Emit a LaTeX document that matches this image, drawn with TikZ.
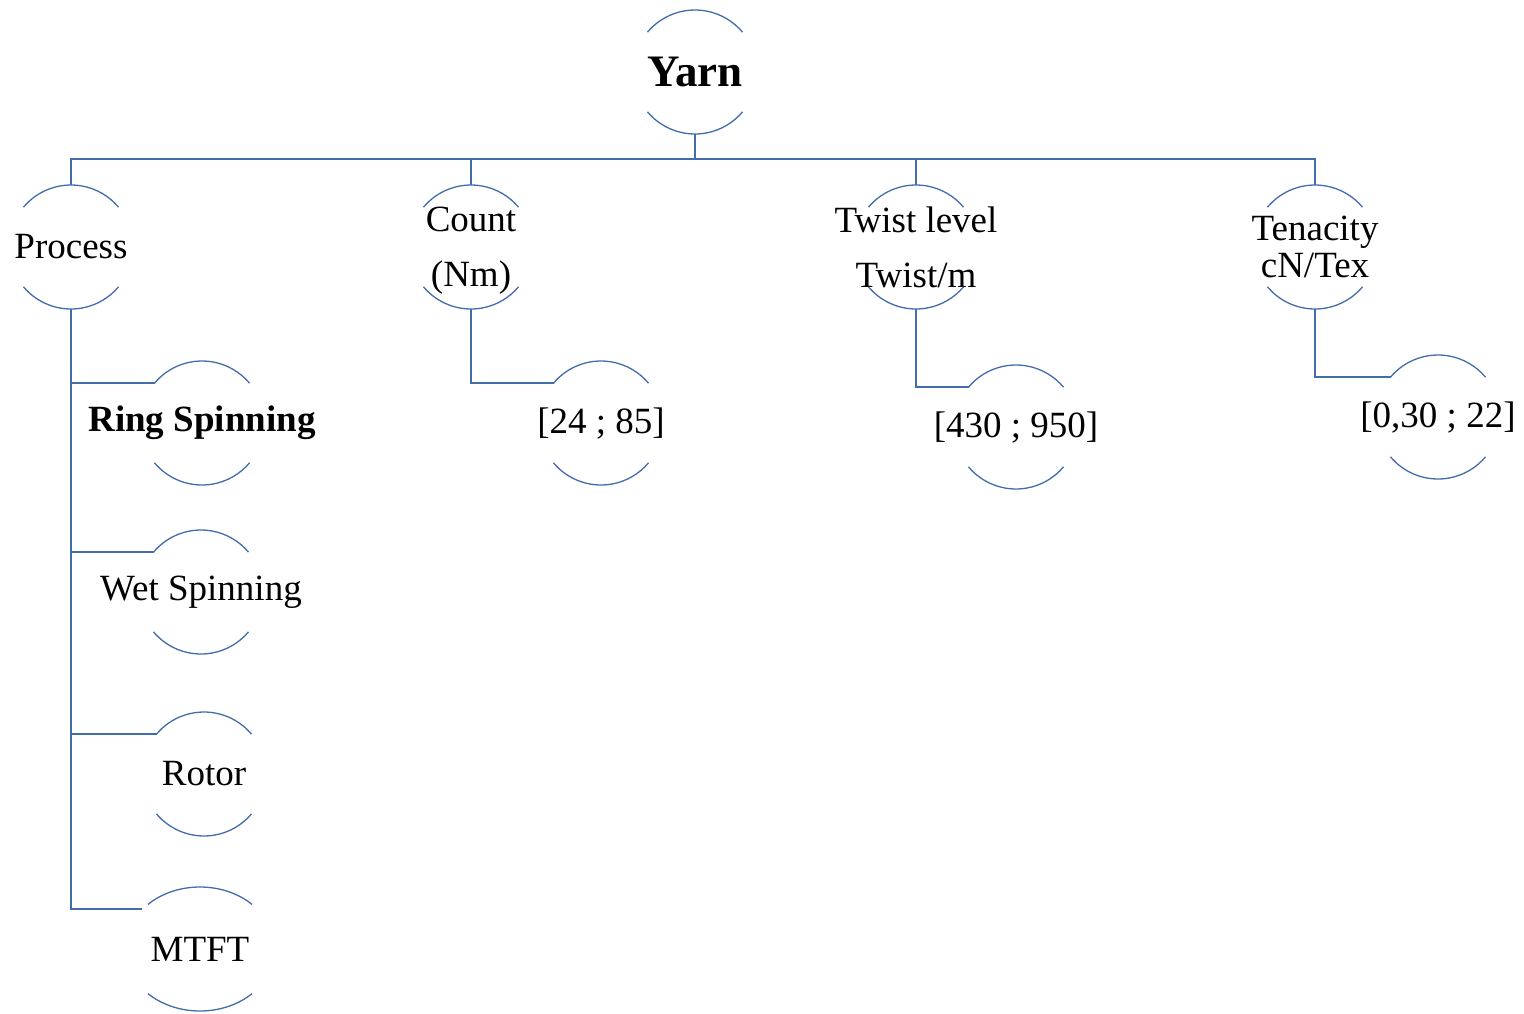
\documentclass[tikz,border=0pt]{standalone}
\usepackage{fontspec}
\setmainfont{Liberation Serif}
\definecolor{lineblue}{RGB}{66,108,170}
% #1 node, #2 horizontal radius, #3 parametric angle where the arcs stop
\newcommand\ringarcsgen[3]{%
  \draw[arcline] ([shift={({#2*cos(180-#3)*1pt},{62*sin(#3)*1pt})}]#1.center)
     arc[start angle=180-#3,end angle=#3,x radius=#2pt,y radius=62pt];
  \draw[arcline] ([shift={({#2*cos(180+#3)*1pt},{-62*sin(#3)*1pt})}]#1.center)
     arc[start angle=180+#3,end angle=360-#3,x radius=#2pt,y radius=62pt];}
\newcommand\ringarcs[1]{\ringarcsgen{#1}{62}{40}}
\begin{document}
\begin{tikzpicture}[x=1pt,y=-1pt,
  arcline/.style={draw=lineblue,line width=1.3pt},
  link/.style={draw=lineblue,line width=1.6pt},
  lbl/.style={inner sep=0pt,align=center,font=\fontsize{37}{37}\selectfont},
  title/.style={inner sep=0pt,font=\fontsize{45}{45}\selectfont\bfseries}]
\useasboundingbox (0,0) rectangle (1524,1013);
% nodes (placed at ring centres)
\node[title] (yarn) at (695,72) {Yarn};
\node[lbl] (process) at (71,247) {Process};
\node[lbl,font=\fontsize{37}{55}\selectfont,text height=84.5pt,text depth=6.5pt] (count) at (471,247) {Count\\(Nm)};
\node[lbl,font=\fontsize{37}{55}\selectfont] (twist) at (916,247) {Twist level\\Twist/m};
\node[lbl,font=\fontsize{37}{37}\selectfont] (tenacity) at (1315,247) {Tenacity\\cN/Tex};
\node[lbl,font=\fontsize{37}{37}\selectfont\bfseries] (ring) at (202,423) {Ring Spinning};
\node[lbl] (wet) at (201,592) {Wet Spinning};
\node[lbl] (rotor) at (204,774) {Rotor};
\node[lbl] (mtft) at (200,949) {MTFT};
\node[lbl] (c85) at (601,423) {[24 ; 85]};
\node[lbl] (c950) at (1016,427) {[430 ; 950]};
\node[lbl] (c22) at (1438,417) {[0,30 ; 22]};
% arcs
\ringarcs{yarn}
\ringarcs{process}
\ringarcs{count}
\ringarcs{twist}
\ringarcs{tenacity}
\ringarcs{ring}
\ringarcs{wet}
\ringarcs{rotor}
\ringarcsgen{mtft}{75}{46}
\ringarcs{c85}
\ringarcs{c950}
\ringarcs{c22}
% connectors
\coordinate (bus) at (695,159);
\draw[link] ([yshift=-62pt]yarn.center) -- (bus);
\draw[link] (bus) -| ([yshift=62pt]process.center);
\draw[link] (bus) -| ([yshift=62pt]count.center);
\draw[link] (bus) -| ([yshift=62pt]twist.center);
\draw[link] (bus) -| ([yshift=62pt]tenacity.center);
\draw[link] ([yshift=-62pt]process.center) |- ([shift={(140:62pt)}]ring.center);
\draw[link] ([yshift=-62pt]process.center) |- ([shift={(140:62pt)}]wet.center);
\draw[link] ([yshift=-62pt]process.center) |- ([shift={(140:62pt)}]rotor.center);
\draw[link] ([yshift=-62pt]process.center) |- ([shift={(-58pt,40pt)}]mtft.center);
\draw[link] ([yshift=-62pt]count.center) |- ([shift={(140:62pt)}]c85.center);
\draw[link] ([yshift=-62pt]twist.center) |- ([shift={(140:62pt)}]c950.center);
\draw[link] ([yshift=-62pt]tenacity.center) |- ([shift={(140:62pt)}]c22.center);
\end{tikzpicture}
\end{document}
